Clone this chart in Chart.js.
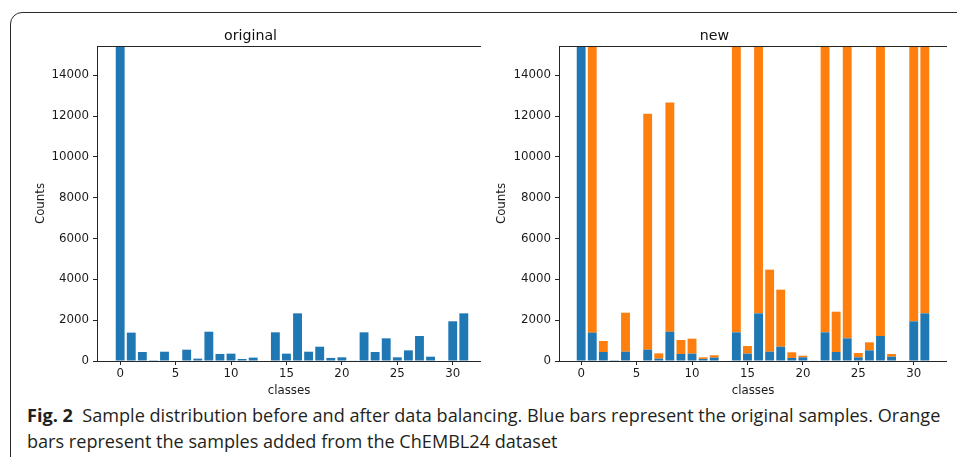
<!DOCTYPE html>
<html>
<head>
<meta charset="utf-8">
<script src="https://cdn.jsdelivr.net/npm/chart.js@4.4.1/dist/chart.umd.min.js"></script>
<style>
  html, body { margin: 0; padding: 0; background: #fff; }
  body { width: 957px; height: 457px; position: relative; overflow: hidden; }
  .box {
    position: absolute; left: 10px; top: 12px; width: 980px; height: 480px;
    border: 1.3px solid #2b2b2b; border-radius: 12px;
  }
  canvas { position: absolute; }
  #left { left: 20px; top: 20px; }
  #right { left: 482px; top: 20px; }
  .cap {
    position: absolute; left: 27px; top: 402px; width: 940px;
    font-family: "Open Sans", sans-serif; font-size: 18.1px; line-height: 26px;
    color: #231f20; white-space: nowrap;
  }
  .cap b { font-weight: 700; }
</style>
</head>
<body>
<div class="box"></div>
<canvas id="left" width="461" height="380"></canvas>
<canvas id="right" width="465" height="380"></canvas>
<div class="cap"><b>Fig. 2</b>&nbsp; Sample distribution before and after data balancing. Blue bars represent the original samples. Orange<br>bars represent the samples added from the ChEMBL24 dataset</div>
<script>
// Set up
  const classes = [0, 1, 2, 3, 4, 5, 6, 7, 8, 9, 10, 11, 12, 13, 14, 15,
    16, 17, 18, 19, 20, 21, 22, 23, 24, 25, 26, 27, 28, 29, 30, 31];

  // original sample counts per class (class 0 runs off the top)
  const original = [22000, 1390, 440, 40, 455, 0, 555, 115, 1435, 345, 360, 100, 165, 0, 1405, 360,
    2335, 455, 700, 150, 180, 30, 1405, 440, 1110, 180, 520, 1225, 210, 0, 1945, 2335];

  // samples added from ChEMBL24 (stacked on top of the original ones)
  const added = [0, 20610, 540, 0, 1910, 0, 11555, 260, 11235, 685, 735, 80, 115, 0, 20595, 375,
    19665, 4020, 2795, 275, 80, 0, 20595, 1975, 20890, 210, 395, 20775, 135, 0, 20055, 19665];

  const yTicks = [0, 2000, 4000, 6000, 8000, 10000, 12000, 14000];
  const xTicks = [0, 5, 10, 15, 20, 25, 30];

  const blue = '#1f77b4';
  const orange = '#ff7f0e';

  Chart.defaults.font.family = 'DejaVu Sans';
  Chart.defaults.color = '#1a1a1a';

  const pts = (vals) => classes.map((c, i) => ({ x: c, y: vals[i] }));

  // axes box like matplotlib spines
  const spines = {
    id: 'spines',
    afterDatasetsDraw(chart) {
      const { ctx, chartArea: a } = chart;
      ctx.save();
      ctx.strokeStyle = '#262626';
      ctx.lineWidth = 1;
      ctx.strokeRect(Math.round(a.left) + 0.5, Math.round(a.top) + 0.5,
        Math.round(a.right - a.left), Math.round(a.bottom - a.top));
      ctx.restore();
    }
  };

  function makeOptions(title, xMin, xMax, labelPad) {
    return {
      responsive: false,
      animation: false,
      devicePixelRatio: 1,
      layout: { padding: 0 },
      plugins: {
        legend: { display: false },
        tooltip: { enabled: false },
        title: {
          display: true, text: title, color: '#111',
          font: { size: 14.2, weight: 'normal' },
          padding: { top: 8, bottom: 1 }
        }
      },
      scales: {
        x: {
          type: 'linear', min: xMin, max: xMax, stacked: true, offset: false,
          afterFit: (s) => { s.height = 39; },
          afterBuildTicks: (s) => { s.ticks = xTicks.map(v => ({ value: v })); },
          ticks: { font: { size: 11.8 }, padding: 2, callback: v => String(v) },
          grid: { drawOnChartArea: false, offset: false, tickLength: 4, color: '#262626' },
          border: { display: false },
          title: { display: true, text: 'classes', font: { size: 11.8 }, padding: { top: 0, bottom: 2 } }
        },
        y: {
          min: 0, max: 15430, stacked: true,
          afterFit: (s) => { s.width = 77; },
          afterBuildTicks: (s) => { s.ticks = yTicks.map(v => ({ value: v })); },
          ticks: { font: { size: 11.8 }, padding: 4, callback: v => String(v) },
          grid: { drawOnChartArea: false, tickLength: 4, color: '#262626' },
          border: { display: false },
          title: { display: true, text: 'Counts', font: { size: 11.8 }, padding: { top: labelPad, bottom: 0 } }
        }
      }
    };
  }

  const barStyle = { categoryPercentage: 1, barPercentage: 0.8, borderWidth: 0, clip: 0 };

// Config
  new Chart(document.getElementById('left'), {
    type: 'bar',
    data: {
      datasets: [{ label: 'original', data: pts(original), backgroundColor: blue, ...barStyle }]
    },
    options: makeOptions('original', -2.09, 32.55, 13.9),
    plugins: [spines]
  });

  new Chart(document.getElementById('right'), {
    type: 'bar',
    data: {
      datasets: [
        { label: 'original', data: pts(original), backgroundColor: blue, ...barStyle },
        { label: 'added', data: pts(added), backgroundColor: orange, ...barStyle }
      ]
    },
    options: makeOptions('new', -2.0, 33.0, 12.6),
    plugins: [spines]
  });
</script>
</body>
</html>
